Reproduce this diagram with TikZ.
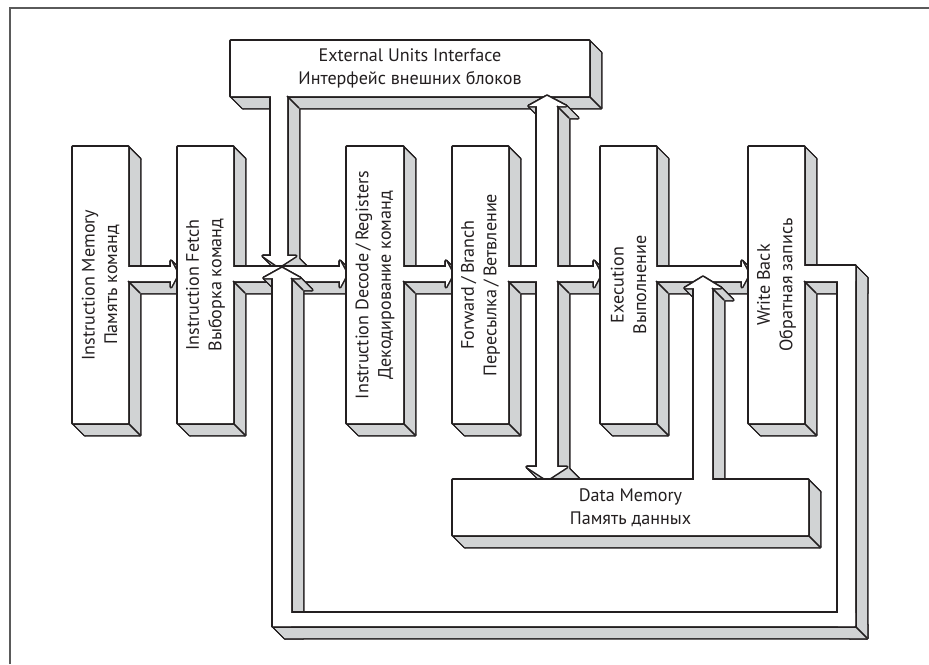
\documentclass[tikz,border=0pt]{standalone}
\usepackage{fontspec}
\setmainfont{PT Sans}
\definecolor{pipegray}{RGB}{209,211,212}
\definecolor{pipeline}{RGB}{35,31,32}
\definecolor{framegray}{RGB}{90,90,90}

\newcommand{\dd}{12}
% side faces of one convex piece (closed list x/y)
\newcommand{\sidefaces}[2]{%
  \foreach \px/\py [count=\i, remember=\px as \ox, remember=\py as \oy] in #1 {%
    \ifnum\i>1 \path[#2] (\ox,\oy) -- (\px,\py) -- ++(\dd,\dd) -- (\ox+\dd,\oy+\dd) -- cycle;\fi}}
% front face of one convex piece
\newcommand{\frontface}[2]{%
  \foreach \px/\py [count=\i] in #1 {\ifnum\i=1 \xdef\fx{\px}\xdef\fy{\py}\fi}%
  \path[#2] (\fx,\fy) \foreach \px/\py in #1 {-- (\px,\py)} -- cycle;}
% extruded solid built from convex pieces
\newcommand{\solid}[1]{%
  \foreach \pc in {#1}{\sidefaces{\pc}{sideline}}
  \foreach \pc in {#1}{\sidefaces{\pc}{sidefill}}
  \foreach \pc in {#1}{\frontface{\pc}{sideline}}
  \foreach \pc in {#1}{\frontface{\pc}{frontfill}}}

\tikzset{
  sideline/.style={draw=pipeline, line width=1.8pt, line join=round},
  sidefill/.style={fill=pipegray},
  frontfill/.style={fill=white},
  crease/.style={draw=pipeline, line width=0.9pt},
  stagetext/.style={font=\fontsize{10.3}{12.8}\selectfont, align=center, inner sep=0pt, text=pipeline}
}

\begin{document}
\begin{tikzpicture}[x=0.02cm, y=-0.02cm]
\useasboundingbox (0,0) rectangle (929,664);

% frame
\draw[framegray, line width=1.2pt] (10,664) -- (10,8) -- (929,8);

% external units interface
\solid{{231/41,589/41,589/96,231/96,231/41},{271/90,287/90,287/256,271/256,271/90},{263/256,296/256,279/267,263/256}}
\draw[crease] (287,96) -- ++(\dd,\dd) (589,96) -- ++(\dd,\dd);
\node[stagetext] (eui) at (410,68.5) {External Units Interface\\Интерфейс внешних блоков};

% instruction memory
\solid{{73/147,128/147,128/423,73/423,73/147},{120/267,171/267,171/281,120/281,120/267},{171/261,178/274,171/287,171/261}}
\draw[crease] (128,281) -- ++(\dd,\dd) (128,423) -- ++(\dd,\dd);
\node[stagetext, rotate=90] (imem) at (100.5,285) {Instruction Memory\\Память команд};

% instruction fetch
\solid{{178/147,233/147,233/423,178/423,178/147},{225/267,340/267,340/281,225/281,225/267},{340/261,347/274,340/287,340/261}}
\draw[crease] (233,281) -- ++(\dd,\dd) (233,423) -- ++(\dd,\dd);
\node[stagetext, rotate=90] (ifetch) at (205.5,285) {Instruction Fetch\\Выборка команд};

% instruction decode
\solid{{347/147,403/147,403/423,347/423,347/147},{395/267,446/267,446/281,395/281,395/267},{446/261,453/274,446/287,446/261}}
\draw[crease] (403,281) -- ++(\dd,\dd) (403,423) -- ++(\dd,\dd);
\node[stagetext, rotate=90] (idec) at (375,285) {Instruction Decode\,/\,Registers\\Декодирование команд};

% forward / branch with the bus to the interface and data memory
\solid{{453/147,508/147,508/423,453/423,453/147},{500/267,594/267,594/281,500/281,500/267},{594/261,601/274,594/287,594/261},{537/106,557/106,557/467,537/467,537/106},{529/106,547/96,566/106,529/106},{527/467,567/467,547/480,527/467}}
\draw[crease] (508,281) -- ++(\dd,\dd) (508,423) -- ++(\dd,\dd) (557,281) -- ++(\dd,\dd) (557,106) -- ++(\dd,\dd);
\node[stagetext, rotate=90] (fwd) at (480.5,285) {Forward\,/\,Branch\\Пересылка\,/\,Ветвление};

% execution
\solid{{601/147,656/147,656/423,601/423,601/147},{648/267,742/267,742/281,648/281,648/267},{742/261,749/274,742/287,742/261}}
\draw[crease] (656,281) -- ++(\dd,\dd) (656,423) -- ++(\dd,\dd);
\node[stagetext, rotate=90] (exec) at (628.5,285) {Execution\\Выполнение};

% data memory
\solid{{453/480,808/480,808/535,453/535,453/480},{694/288,712/288,712/488,694/488,694/288},{685/288,703/277,721/288,685/288}}
\draw[crease] (712,288) -- ++(\dd,\dd) (808,535) -- ++(\dd,\dd);
\node[stagetext] (dmem) at (630.5,507.5) {Data Memory\\Память данных};

% write back with the loop to the fetch bus
\solid{{749/147,804/147,804/423,749/423,749/147},{796/266,855/266,855/281,796/281,796/266},{838/266,855/266,855/626,838/626,838/266},{273/613,855/613,855/626,273/626,273/613},{273/278,291/278,291/626,273/626,273/278},{264/278,300/278,282/268,264/278}}
\draw[crease] (804,281) -- ++(\dd,\dd) (804,423) -- ++(\dd,\dd) (855,626) -- ++(\dd,\dd) (291,278) -- ++(\dd,\dd);
\node[stagetext, rotate=90] (wback) at (776.5,285) {Write Back\\Обратная запись};

\end{tikzpicture}
\end{document}
